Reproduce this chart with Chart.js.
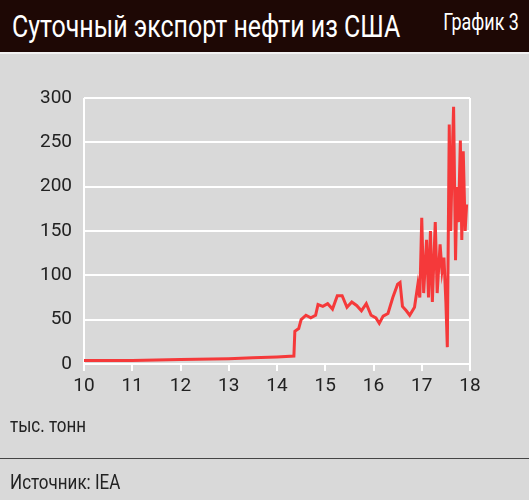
<!DOCTYPE html><html><head><meta charset="utf-8">
<script src="https://cdn.jsdelivr.net/npm/chart.js@4/dist/chart.umd.min.js"></script>
<style>
body{margin:0;width:529px;height:500px;background:#d9d9d9;position:relative;overflow:hidden;font-family:'Roboto','DejaVu Sans',sans-serif}
#hd{position:absolute;left:0;top:0;width:529px;height:52px;background:#1e0805;border-bottom:2px solid #f2f2f2}
#t{position:absolute;left:12px;top:7px;color:#fff;font-size:32px;transform:scaleX(0.78);transform-origin:left top;white-space:nowrap}
#g{position:absolute;right:10px;top:9px;color:#fff;font-size:23px;transform:scaleX(0.78);transform-origin:right top;white-space:nowrap}
#c{position:absolute;left:0;top:54px}
#u{position:absolute;left:10px;top:413px;font-size:20px;color:#222;transform:scaleX(0.85);transform-origin:left top}
#ln{position:absolute;left:0;top:458px;width:529px;height:1px;background:#444}
#s{position:absolute;left:10px;top:470px;font-size:20px;color:#222;transform:scaleX(0.85);transform-origin:left top}
</style></head><body>
<div id="hd"><div id="t">Суточный экспорт нефти из США</div><div id="g">График 3</div></div>
<div id="c"><canvas id="cv" width="529" height="404"></canvas></div>
<div id="u">тыс. тонн</div><div id="ln"></div><div id="s">Источник: IEA</div>
<script>
const xVals=[10,11,12,13,13.5,14,14.35,14.37,14.45,14.5,14.6,14.7,14.8,14.85,14.95,15.05,15.15,15.25,15.35,15.45,15.55,15.65,15.75,15.85,15.95,16.05,16.12,16.2,16.3,16.4,16.5,16.55,16.6,16.68,16.75,16.85,16.92,16.96,17.0,17.04,17.1,17.14,17.18,17.22,17.28,17.32,17.38,17.42,17.46,17.5,17.53,17.57,17.6,17.64,17.66,17.7,17.73,17.76,17.8,17.83,17.86,17.9,17.93];
const yVals=[4,4,5,6,7,8,9,37,40,50,55,52,55,67,65,68,62,77,77,64,70,66,60,68,55,52,46,54,57,75,90,92,65,60,55,64,90,75,165,80,140,75,150,70,160,80,135,105,120,70,19,270,150,250,290,117,200,160,252,140,240,150,180];
const yTicks=[0,50,100,150,200,250,300];
const xTicks=[10,11,12,13,14,15,16,17,18];
const fnt={family:"Roboto,sans-serif",size:19};
new Chart(document.getElementById('cv'),{type:'line',
data:{datasets:[{data:xVals.map((x,i)=>({x,y:yVals[i]})),borderColor:'#f5393a',borderWidth:3,pointRadius:0,tension:0}]},
options:{responsive:false,animation:false,plugins:{legend:{display:false},tooltip:{enabled:false}},
layout:{padding:{top:44,right:59,left:0,bottom:0}},
scales:{
x:{type:'linear',min:10,max:18,afterBuildTicks:a=>{a.ticks=xTicks.map(v=>({value:v}))},
 afterFit:s=>{s.height=94},
 grid:{color:c=>(c.tick&&(c.tick.value===10||c.tick.value===18))?'#fff':'rgba(0,0,0,0)',lineWidth:2,tickColor:'#fff',tickLength:7,drawOnChartArea:true},
 border:{display:true,color:'#fff',width:2},
 ticks:{color:'#222',font:fnt,padding:4,maxRotation:0}},
y:{min:0,max:300,afterBuildTicks:a=>{a.ticks=yTicks.map(v=>({value:v}))},
 afterFit:s=>{s.width=84},
 grid:{color:'#fff',lineWidth:2,drawTicks:false},border:{display:false},
 ticks:{color:'#222',font:fnt,padding:12}}}}});
</script></body></html>
